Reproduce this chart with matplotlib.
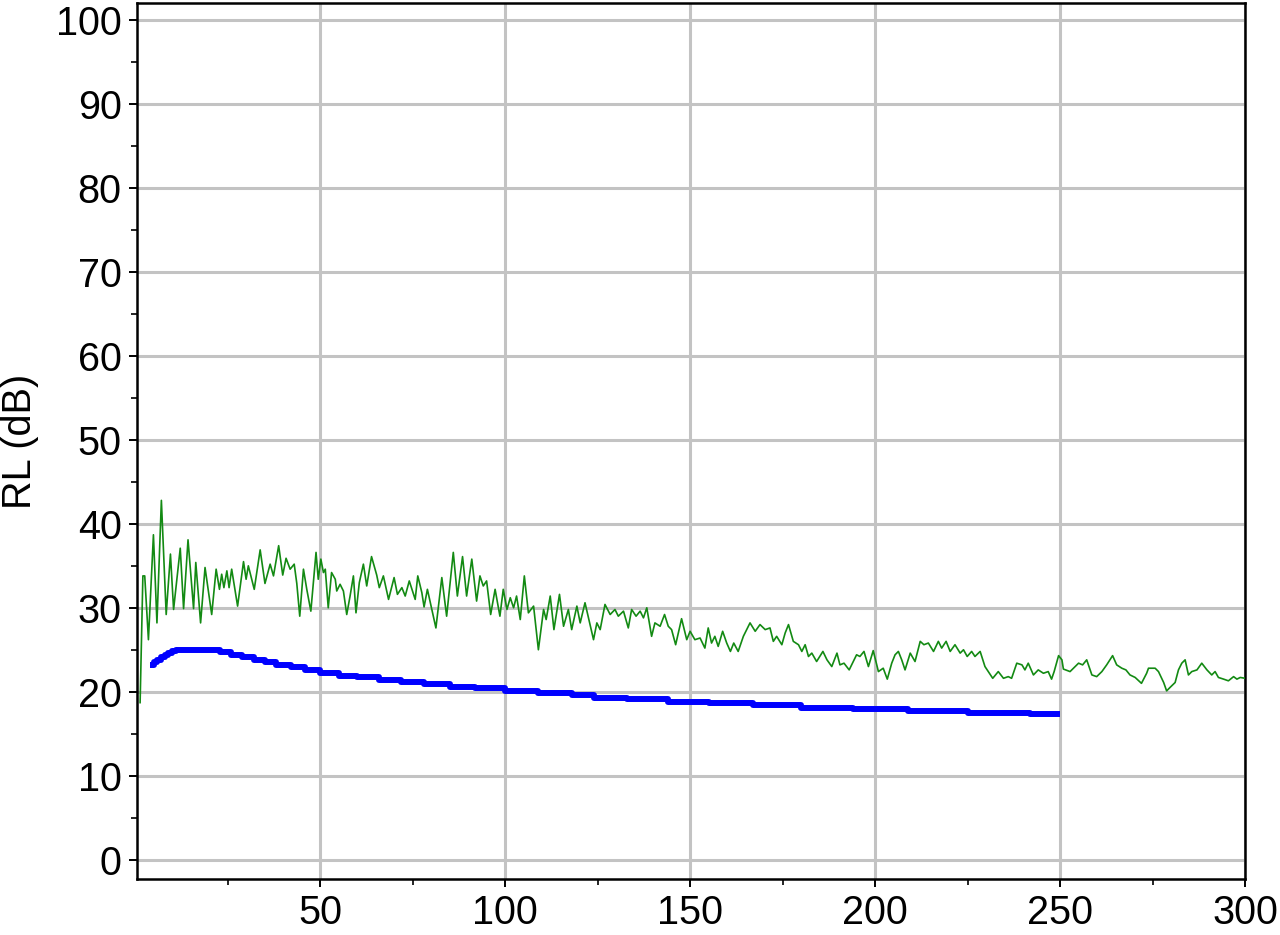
import matplotlib
matplotlib.use("Agg")
import matplotlib.pyplot as plt
from matplotlib.ticker import MultipleLocator

# green trace (RL, measured)
green_x = [1.35, 2.1, 2.6, 3.6, 4.95, 5.9, 7.1, 8.4, 9.55, 10.4, 12.2, 13.1, 14.3, 15.8,
           16.4, 17.7, 18.9, 20.7, 21.9, 22.8, 23.4, 24.0, 24.8, 25.4, 26.1, 27.7, 29.3,
           30.0, 30.6, 32.2, 33.8, 35.1, 36.5, 37.4, 38.8, 39.9, 40.8, 41.9, 43.0, 43.7,
           44.5, 45.5, 46.4, 47.5, 48.9, 49.5, 50.2, 50.9, 51.4, 52.2, 53.1, 54.1, 54.5,
           55.4, 56.3, 57.2, 58.1, 59.0, 59.7, 60.6, 61.7, 62.6, 63.9, 65.3, 66.0, 67.1,
           68.5, 70.0, 70.9, 72.1, 73.0, 74.1, 75.7, 76.4, 77.5, 78.1, 79.0, 79.7, 81.3,
           82.9, 84.2, 86.0, 87.1, 88.5, 89.6, 91.0, 92.3, 93.2, 94.1, 95.0, 96.1, 97.3,
           98.6, 99.5, 100.5, 101.4, 102.3, 103.1, 104.1, 105.2, 106.3, 107.7, 109.0,
           110.4, 111.1, 112.2, 113.2, 114.7, 115.8, 117.1, 118.0, 119.4, 120.3, 121.6,
           123.9, 124.8, 125.7, 127.0, 128.4, 129.7, 130.6, 132.0, 133.3, 134.2, 135.4,
           136.5, 137.4, 138.3, 139.6, 140.5, 141.9, 143.1, 144.1, 145.0, 146.1, 147.7,
           149.1, 150.0, 151.3, 152.7, 154.0, 154.9, 155.8, 156.7, 157.6, 158.8, 159.9,
           160.9, 161.8, 163.0, 164.4, 166.2, 167.6, 168.9, 170.3, 171.6, 172.5, 173.4,
           174.8, 175.7, 176.6, 177.9, 179.3, 180.2, 181.1, 182.0, 182.9, 184.2, 185.9,
           187.0, 188.3, 189.7, 190.5, 191.6, 193.0, 194.1, 195.0, 195.9, 197.0, 198.2,
           199.5, 200.9, 202.2, 203.3, 204.5, 205.4, 206.3, 207.2, 208.1, 209.5, 210.8,
           212.2, 213.2, 214.4, 215.8, 217.1, 218.0, 219.2, 220.3, 221.6, 223.0, 223.9,
           224.9, 226.1, 227.0, 228.4, 229.7, 231.8, 233.3, 234.7, 236.0, 236.9, 238.3,
           239.7, 240.5, 241.4, 242.8, 244.1, 245.5, 246.8, 247.7, 248.4, 249.6, 250.5,
           250.9, 252.7, 254.1, 255.0, 256.1, 257.2, 258.6, 259.9, 261.3, 262.6, 264.2,
           265.3, 266.7, 267.8, 268.9, 270.3, 272.0, 273.4, 273.9, 275.7, 276.6, 278.0,
           278.8, 279.7, 281.1, 282.0, 282.9, 283.8, 284.7, 285.6, 287.0, 288.3, 289.7,
           291.0, 291.9, 292.8, 294.2, 295.5, 296.9, 297.8, 298.7, 300.0]
green_y = [18.7, 33.8, 33.8, 26.2, 38.7, 28.2, 42.8, 29.2, 36.4, 29.8, 37.1, 29.9, 38.1, 29.9,
           35.4, 28.2, 34.8, 29.2, 34.6, 32.2, 34.0, 32.4, 34.4, 32.4, 34.6, 30.2, 35.5,
           33.4, 35.0, 32.2, 36.9, 32.9, 35.2, 33.8, 37.4, 33.9, 35.9, 34.6, 35.2, 32.9,
           29.0, 34.6, 32.2, 29.6, 36.6, 33.4, 35.8, 34.2, 34.6, 30.0, 34.2, 33.4, 32.0,
           32.8, 32.0, 29.2, 31.4, 33.8, 29.4, 33.0, 35.2, 32.6, 36.1, 33.9, 32.4, 33.8,
           31.0, 33.6, 31.6, 32.4, 31.4, 33.2, 31.0, 33.8, 31.8, 30.1, 32.2, 30.8, 27.6,
           33.6, 29.0, 36.6, 31.4, 36.1, 31.4, 35.8, 30.8, 33.8, 32.6, 33.2, 29.2, 32.2,
           29.0, 32.2, 29.8, 31.2, 30.0, 31.4, 28.6, 33.8, 29.4, 30.2, 25.0,
           29.8, 28.6, 31.4, 27.4, 31.6, 27.8, 29.8, 27.4, 30.2, 28.2, 30.6,
           26.2, 28.2, 27.4, 30.4, 29.2, 29.8, 29.0, 29.6, 27.6, 29.8, 29.0,
           29.6, 28.8, 30.0, 26.6, 28.2, 27.8, 29.2, 27.8, 27.4, 25.6, 28.7,
           26.2, 27.2, 26.2, 26.4, 25.2, 27.6, 25.8, 26.6, 25.4, 27.2, 25.8,
           24.8, 25.8, 24.8, 26.6, 28.2, 27.2, 28.0, 27.4, 27.6, 26.0, 26.6,
           25.6, 27.0, 28.0, 26.0, 25.6, 24.8, 25.6, 24.2, 24.6, 23.6, 24.8,
           23.8, 23.0, 24.6, 23.2, 23.4, 22.6, 23.6, 24.4, 24.2, 24.8, 23.0,
           24.9, 22.4, 22.8, 21.5, 23.4, 24.4, 24.8, 23.8, 22.6, 24.6, 23.6,
           26.0, 25.6, 25.8, 24.8, 26.0, 25.2, 26.0, 24.8, 25.6, 24.6, 25.0,
           24.2, 24.8, 24.2, 24.8, 23.0, 21.6, 22.4, 21.6, 21.8, 21.6, 23.4,
           23.2, 22.6, 23.4, 22.0, 22.6, 22.2, 22.4, 21.5, 22.4, 24.3, 23.8,
           22.7, 22.4, 23.0, 23.4, 23.2, 23.8, 22.0, 21.8, 22.4, 23.2, 24.3,
           23.2, 22.8, 22.6, 22.0, 21.7, 21.0, 22.2, 22.8, 22.8, 22.4, 21.1,
           20.1, 20.5, 21.1, 22.6, 23.4, 23.8, 22.0, 22.4, 22.6, 23.4, 22.6,
           22.0, 22.4, 21.7, 21.5, 21.3, 21.8, 21.5, 21.7, 21.6]

# blue trace (stepped)
blue_x = [4, 5, 6, 7, 8, 9, 10, 11, 20, 23, 26, 29, 32, 35, 38, 42, 46, 50, 55, 60, 66, 72,
          78, 85, 92, 100, 109, 118, 124, 133, 144, 155, 167, 180, 194, 209, 225, 242, 250]
blue_y = [23.2, 23.5, 23.8, 24.1, 24.4, 24.6, 24.8, 25.0, 25.0, 24.7, 24.4, 24.1, 23.8, 23.5,
          23.2, 22.9, 22.6, 22.2, 21.9, 21.7, 21.4, 21.1, 20.9, 20.6, 20.4, 20.1, 19.8,
          19.6, 19.3, 19.1, 18.8, 18.6, 18.4, 18.1, 17.9, 17.7, 17.5, 17.3, 17.3]

plt.rcParams['font.family'] = ['Liberation Sans', 'DejaVu Sans']

fig = plt.figure(figsize=(12.8, 9.35), dpi=100)
ax = fig.add_axes([0.107, 0.06, 0.8657, 0.9363])

ax.plot(green_x, green_y, color='#138a13', linewidth=1.2, zorder=3)
ax.plot(blue_x, blue_y, color='#0000ff', linewidth=4.3, drawstyle='steps-post',
        solid_capstyle='butt', zorder=4)

ax.set_xlim(0.5, 300)
ax.set_ylim(-2.3, 102)
ax.xaxis.set_major_locator(MultipleLocator(50))
ax.xaxis.set_minor_locator(MultipleLocator(25))
ax.yaxis.set_major_locator(MultipleLocator(10))
ax.yaxis.set_minor_locator(MultipleLocator(5))

ax.grid(True, which='major', color='#c3c3c3', linewidth=2.2)
ax.set_axisbelow(True)
for s in ax.spines.values():
    s.set_linewidth(1.8)
    s.set_color('black')

ax.tick_params(which='major', direction='out', length=6, width=1.4, labelsize=28.5, pad=5)
ax.tick_params(which='minor', direction='out', length=4, width=1.2)
ax.set_ylabel('RL (dB)', fontsize=28.5, labelpad=12)

fig.savefig('out.png', dpi=100)
